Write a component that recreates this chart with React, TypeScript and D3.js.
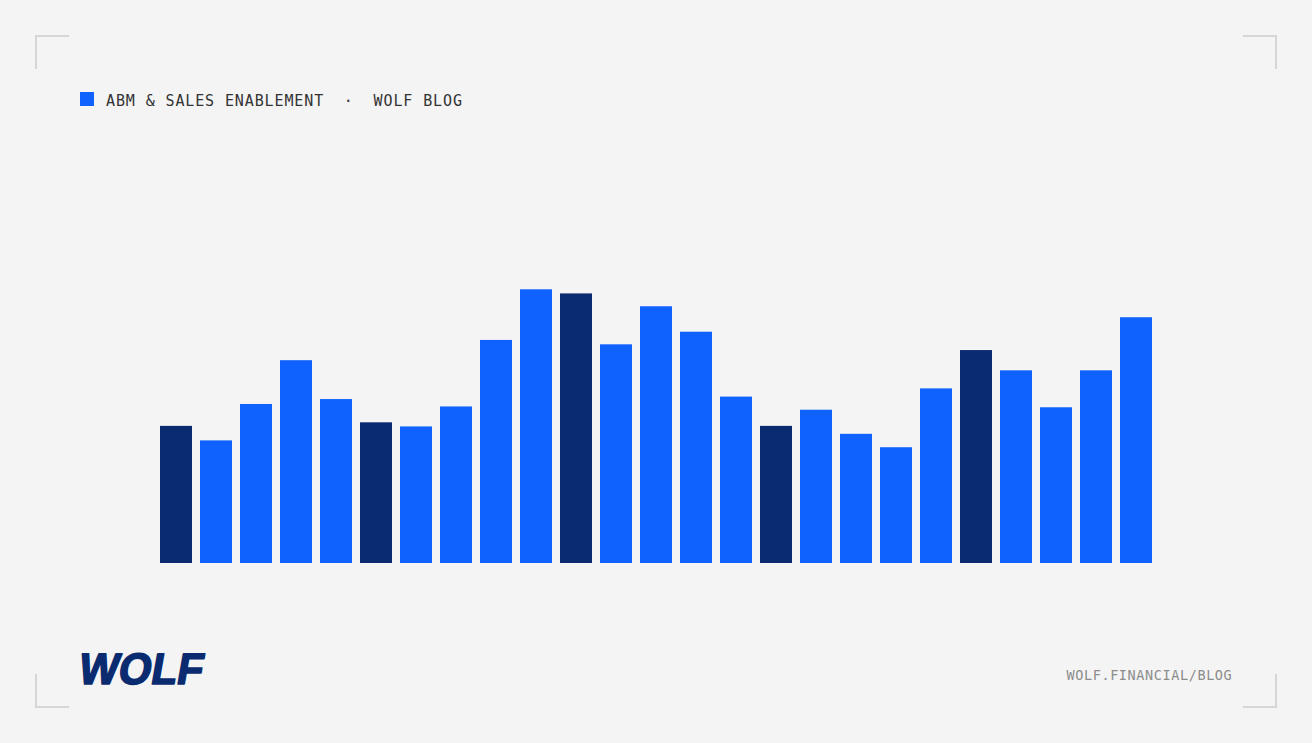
import React from 'react';
import * as d3 from 'd3';

// chart data
const periods = [
  'P01', 'P02', 'P03', 'P04', 'P05', 'P06', 'P07', 'P08', 'P09', 'P10',
  'P11', 'P12', 'P13', 'P14', 'P15', 'P16', 'P17', 'P18', 'P19', 'P20',
  'P21', 'P22', 'P23', 'P24', 'P25',
];
const values = [
  50.1, 44.8, 58.1, 74.1, 59.9, 51.4, 49.9, 57.2, 81.5, 100,
  98.5, 79.9, 93.8, 84.5, 60.8, 50.1, 56.0, 47.2, 42.3, 63.8,
  77.8, 70.4, 56.9, 70.4, 89.8,
];
// every fifth period is highlighted in navy
const highlighted = ['P01', 'P06', 'P11', 'P16', 'P21'];

const legendLabel = 'ABM & SALES ENABLEMENT  \u00b7  WOLF BLOG';
const footerLabel = 'WOLF.FINANCIAL/BLOG';

const W = 1312;
const H = 743;
const BLUE = '#0f62fe';
const NAVY = '#0a2b70';
const BG = '#f4f4f4';
const CORNER = '#d6d6d6';
const MONO = '"DejaVu Sans Mono", "Liberation Mono", monospace';

export default function App() {
  const x = d3.scaleBand<string>()
    .domain(periods)
    .range([160, 1152])
    .paddingInner(0.2)
    .paddingOuter(0)
    .align(0);

  const y = d3.scaleLinear()
    .domain([0, 100])
    .range([563, 289.3]);

  // corner brackets
  const corners = [
    { x: 36, y: 36, dx: 1, dy: 1 },
    { x: 1276, y: 36, dx: -1, dy: 1 },
    { x: 36, y: 707, dx: 1, dy: -1 },
    { x: 1276, y: 707, dx: -1, dy: -1 },
  ];

  return (
    <svg
      width={W}
      height={H}
      style={{ position: 'absolute', left: 0, top: 0, display: 'block' }}
    >
      <rect width={W} height={H} fill={BG} />

      {corners.map((c, i) => (
        <path
          key={i}
          d={`M${c.x},${c.y + c.dy * 33} L${c.x},${c.y} L${c.x + c.dx * 33},${c.y}`}
          fill="none"
          stroke={CORNER}
          strokeWidth={2}
        />
      ))}

      {/* legend */}
      <rect x={80} y={92} width={14} height={14} fill={BLUE} />
      <text
        x={106}
        y={106}
        fontFamily={MONO}
        fontSize={15}
        letterSpacing={0.88}
        fill="#333333"
        style={{ whiteSpace: 'pre' }}
      >
        {legendLabel}
      </text>

      {/* bars */}
      {periods.map((p, i) => (
        <rect
          key={p}
          x={x(p)}
          y={y(values[i])}
          width={x.bandwidth()}
          height={y(0) - y(values[i])}
          fill={highlighted.includes(p) ? NAVY : BLUE}
        />
      ))}

      {/* logo */}
      <g transform="translate(80,684) skewX(-10)">
        <text
          x={-3}
          y={0}
          fontFamily='"Liberation Sans", Arial, sans-serif'
          fontWeight={900}
          fontSize={44}
          textLength={124}
          lengthAdjust="spacingAndGlyphs"
          fill={NAVY}
          stroke={NAVY}
          strokeWidth={1.6}
          strokeLinejoin="round"
        >
          WOLF
        </text>
      </g>

      {/* footer url */}
      <text
        x={1066.5}
        y={679.5}
        fontFamily={MONO}
        fontSize={13.5}
        letterSpacing={0.6}
        fill="#8c8c8c"
      >
        {footerLabel}
      </text>
    </svg>
  );
}
